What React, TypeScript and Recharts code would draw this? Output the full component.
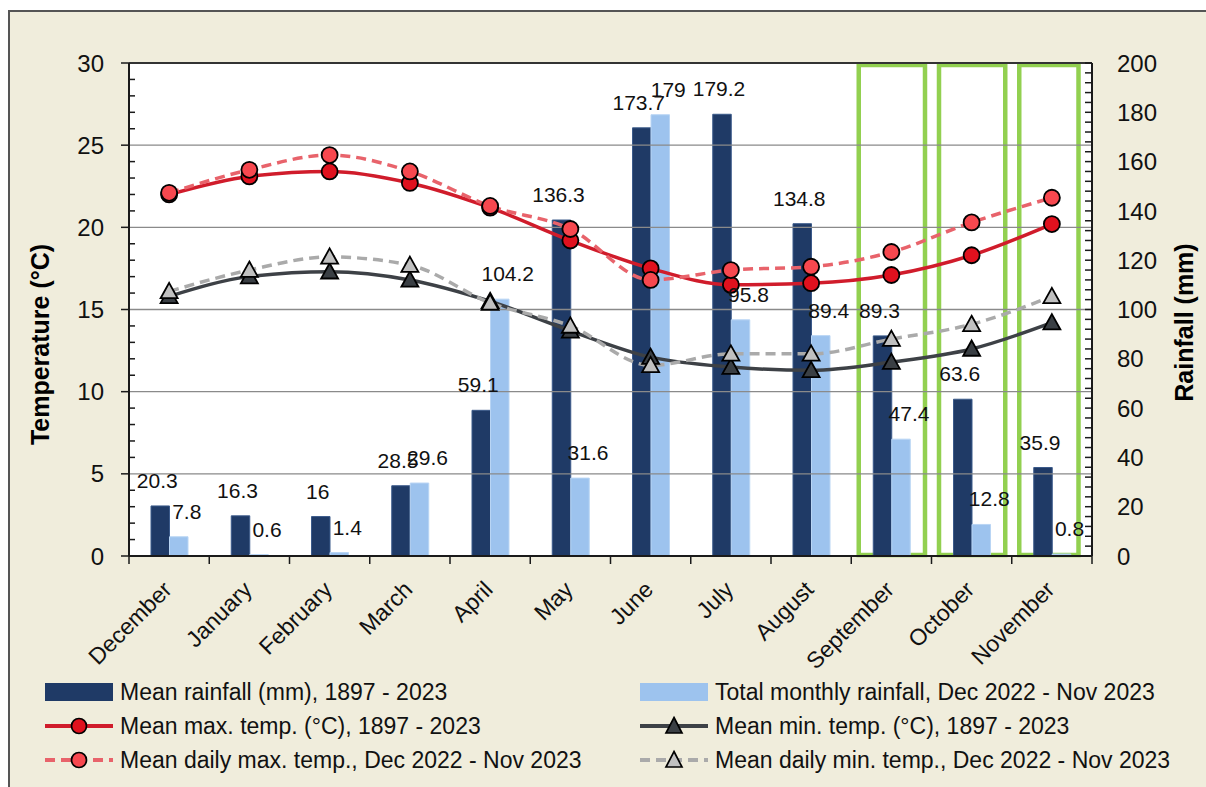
import React from 'react';
import {
  ComposedChart,
  Bar,
  Line,
  XAxis,
  YAxis,
  ReferenceArea,
  ReferenceLine,
  LabelList,
  Label,
} from 'recharts';

const months = [
  'December', 'January', 'February', 'March', 'April', 'May',
  'June', 'July', 'August', 'September', 'October', 'November',
];
const meanRainfall = [20.3, 16.3, 16, 28.5, 59.1, 136.3, 173.7, 179.2, 134.8, 89.3, 63.6, 35.9];
const totalRainfall = [7.8, 0.6, 1.4, 29.6, 104.2, 31.6, 179, 95.8, 89.4, 47.4, 12.8, 0.8];
const meanMaxTemp = [22.0, 23.1, 23.4, 22.7, 21.2, 19.2, 17.5, 16.5, 16.6, 17.1, 18.3, 20.2];
const dailyMaxTemp = [22.1, 23.5, 24.4, 23.4, 21.3, 19.9, 16.8, 17.4, 17.6, 18.5, 20.3, 21.8];
const meanMinTemp = [15.8, 17.0, 17.3, 16.8, 15.5, 13.7, 12.1, 11.5, 11.3, 11.8, 12.6, 14.2];
const dailyMinTemp = [16.1, 17.4, 18.2, 17.7, 15.4, 14.0, 11.6, 12.3, 12.3, 13.2, 14.1, 15.8];
const tempTicks = Array.from({ length: 31 }, (_, i) => i);
const tempGrid = [5, 10, 15, 20, 25];
const rainTicks = Array.from({ length: 51 }, (_, i) => i * 4);
const highlightedMonths = ['September', 'October', 'November'];

const data = months.map((m, i) => ({
  month: m,
  meanRain: meanRainfall[i],
  totalRain: totalRainfall[i],
  meanMax: meanMaxTemp[i],
  dailyMax: dailyMaxTemp[i],
  meanMin: meanMinTemp[i],
  dailyMin: dailyMinTemp[i],
}));

const FONT = '"Liberation Sans", Arial, sans-serif';
const W = 1206;
const H = 787;
const PLOT_LEFT = 129;
const PLOT_RIGHT = 1092;
const PLOT_TOP = 63;
const PLOT_BOTTOM = 556;
const HALF_SLOT = (PLOT_RIGHT - PLOT_LEFT) / months.length / 2;

const C = {
  dark: '#1F3A66',
  darkEdge: '#3B5A8A',
  light: '#9DC3EE',
  lightEdge: '#B9D5F4',
  red: '#D01C2B',
  redDot: '#E0111E',
  redDash: '#E8636B',
  redDashDot: '#F7484F',
  grey: '#3D4146',
  greyDot: '#3A3F44',
  greyDash: '#AAAAAA',
  greyDashDot: '#C0C0C0',
  green: '#92D050',
  axis: '#1A1A1A',
  grid: '#8A8A8A',
  cream: '#F0EDDC',
};

const LeftTick = (props: any) => {
  const { x, y, payload } = props;
  const v = payload.value;
  const major = v % 5 === 0;
  return (
    <g>
      {major ? (
        <line x1={x - 8} x2={x} y1={y} y2={y} stroke={C.axis} strokeWidth={1.5} />
      ) : (
        <line x1={x} x2={x + 6} y1={y} y2={y} stroke={C.axis} strokeWidth={1.5} />
      )}
      {major && (
        <text x={x - 25} y={y} dy="0.36em" textAnchor="end" fontSize={24} fill="#111" fontFamily={FONT}>
          {v}
        </text>
      )}
    </g>
  );
};

const RightTick = (props: any) => {
  const { x, y, payload } = props;
  const v = payload.value;
  const major = v % 20 === 0;
  return (
    <g>
      <line x1={x - 7} x2={x} y1={y} y2={y} stroke={C.axis} strokeWidth={1.5} />
      {major && (
        <text x={x + 25} y={y} dy="0.36em" textAnchor="start" fontSize={24} fill="#111" fontFamily={FONT}>
          {v}
        </text>
      )}
    </g>
  );
};

const BottomTick = (props: any) => {
  const { x, y, payload, index } = props;
  const last = index === months.length - 1;
  const tx = x + 4;
  const ty = y + 35;
  return (
    <g>
      <line x1={x - HALF_SLOT} x2={x - HALF_SLOT} y1={y} y2={y + 8} stroke={C.axis} strokeWidth={1.5} />
      {last && <line x1={x + HALF_SLOT} x2={x + HALF_SLOT} y1={y} y2={y + 8} stroke={C.axis} strokeWidth={1.5} />}
      <text
        x={tx}
        y={ty}
        textAnchor="end"
        fontSize={23}
        fill="#111"
        fontFamily={FONT}
        transform={`rotate(-45, ${tx}, ${ty})`}
      >
        {payload.value}
      </text>
    </g>
  );
};

const CircleDot = (props: any) => {
  const { cx, cy, fill } = props;
  if (cx == null || cy == null) return null;
  return <circle cx={cx} cy={cy} r={8} fill={fill} stroke="#000" strokeWidth={1.8} />;
};

const TriDot = (props: any) => {
  const { cx, cy, fill } = props;
  if (cx == null || cy == null) return null;
  const s = 8.5;
  return (
    <path
      d={`M${cx},${cy - s} L${cx + s},${cy + s * 0.8} L${cx - s},${cy + s * 0.8} Z`}
      fill={fill}
      stroke="#000"
      strokeWidth={1.8}
    />
  );
};

const GreenBox = (p: any) => {
  const extra = p.extraRight || 0;
  return (
    <rect
      x={p.x + 7.5}
      y={p.y + 2}
      width={p.width - 14 - extra}
      height={p.height - 3}
      fill="none"
      stroke={C.green}
      strokeWidth={4.5}
    />
  );
};

const legendRows = [
  [
    { kind: 'bar', color: C.dark, label: 'Mean rainfall (mm), 1897 - 2023' },
    { kind: 'bar', color: C.light, label: 'Total monthly rainfall, Dec 2022 - Nov 2023' },
  ],
  [
    { kind: 'line', color: C.red, dot: C.redDot, shape: 'circle', dash: false, label: 'Mean max. temp. (°C), 1897 - 2023' },
    { kind: 'line', color: C.grey, dot: C.greyDot, shape: 'tri', dash: false, label: 'Mean min. temp. (°C), 1897 - 2023' },
  ],
  [
    { kind: 'line', color: C.redDash, dot: C.redDashDot, shape: 'circle', dash: true, label: 'Mean daily max. temp., Dec 2022 - Nov 2023' },
    { kind: 'line', color: C.greyDash, dot: C.greyDashDot, shape: 'tri', dash: true, label: 'Mean daily min. temp., Dec 2022 - Nov 2023' },
  ],
];

const Swatch = ({ item }: { item: any }) => (
  <svg width={70} height={26} style={{ display: 'block' }}>
    {item.kind === 'bar' ? (
      <rect x={1} y={4} width={68} height={18} fill={item.color} />
    ) : (
      <g>
        <line
          x1={1}
          x2={69}
          y1={13}
          y2={13}
          stroke={item.color}
          strokeWidth={4}
          strokeDasharray={item.dash ? '10 6' : undefined}
        />
        {item.shape === 'circle' ? (
          <circle cx={35} cy={13} r={7.5} fill={item.dot} stroke="#000" strokeWidth={1.7} />
        ) : (
          <path d="M35,4.5 L43,20 L27,20 Z" fill={item.dot} stroke="#000" strokeWidth={1.7} />
        )}
      </g>
    )}
  </svg>
);

export default function App() {
  return (
    <div style={{ position: 'fixed', left: 0, top: 0, width: W, height: H, overflow: 'hidden', background: '#fff' }}>
      <div
        style={{
          position: 'absolute',
          left: 8,
          top: 10,
          right: -10,
          bottom: -10,
          background: C.cream,
          borderLeft: '2px solid #555',
          borderTop: '2px solid #555',
        }}
      />
      <div style={{ position: 'absolute', left: 0, top: 0 }}>
        <ComposedChart
          width={W}
          height={H}
          data={data}
          margin={{ top: PLOT_TOP, right: 0, bottom: 0, left: 0 }}
          barGap={0}
          barSize={18.5}
          style={{ fontFamily: FONT }}
        >
          <ReferenceArea yAxisId="left" y1={0} y2={30} fill="#FFFFFF" fillOpacity={1} stroke="none" />
          {tempGrid.map((v) => (
            <ReferenceLine key={v} yAxisId="left" y={v} stroke={C.grid} strokeWidth={1.3} />
          ))}
          <ReferenceLine yAxisId="left" y={30} stroke="#333" strokeWidth={2} />
          <XAxis
            dataKey="month"
            height={H - PLOT_BOTTOM}
            interval={0}
            tickLine={false}
            tickSize={0}
            tickMargin={0}
            axisLine={{ stroke: C.axis, strokeWidth: 2 }}
            tick={<BottomTick />}
          />
          <YAxis
            yAxisId="left"
            width={PLOT_LEFT}
            domain={[0, 30]}
            ticks={tempTicks}
            interval={0}
            tickLine={false}
            tickSize={0}
            tickMargin={0}
            axisLine={{ stroke: C.axis, strokeWidth: 2 }}
            tick={<LeftTick />}
          >
            <Label
              content={(p: any) => {
                const vb = p.viewBox || { x: 0, y: PLOT_TOP, width: PLOT_LEFT, height: PLOT_BOTTOM - PLOT_TOP };
                const cx = vb.x + 40;
                const cy = vb.y + vb.height / 2 + 35;
                return (
                  <text
                    x={cx}
                    y={cy}
                    textAnchor="middle"
                    dy="0.35em"
                    fontSize={25}
                    fontWeight="bold"
                    fill="#000"
                    fontFamily={FONT}
                    transform={`rotate(-90, ${cx}, ${cy})`}
                  >
                    Temperature (°C)
                  </text>
                );
              }}
            />
          </YAxis>
          <YAxis
            yAxisId="right"
            orientation="right"
            width={W - PLOT_RIGHT}
            domain={[0, 200]}
            ticks={rainTicks}
            interval={0}
            tickLine={false}
            tickSize={0}
            tickMargin={0}
            axisLine={{ stroke: C.axis, strokeWidth: 2 }}
            tick={<RightTick />}
          >
            <Label
              content={(p: any) => {
                const vb = p.viewBox || { x: PLOT_RIGHT, y: PLOT_TOP, width: W - PLOT_RIGHT, height: PLOT_BOTTOM - PLOT_TOP };
                const cx = vb.x + 92;
                const cy = vb.y + vb.height / 2 + 13;
                return (
                  <text
                    x={cx}
                    y={cy}
                    textAnchor="middle"
                    dy="0.35em"
                    fontSize={25}
                    fontWeight="bold"
                    fill="#000"
                    fontFamily={FONT}
                    transform={`rotate(-90, ${cx}, ${cy})`}
                  >
                    Rainfall (mm)
                  </text>
                );
              }}
            />
          </YAxis>
          <Bar yAxisId="right" dataKey="meanRain" fill={C.dark} stroke={C.darkEdge} strokeWidth={1} isAnimationActive={false}>
            <LabelList dataKey="meanRain" position="top" offset={18} dx={-3} fontSize={21} fill="#111" fontFamily={FONT} />
          </Bar>
          <Bar yAxisId="right" dataKey="totalRain" fill={C.light} stroke={C.lightEdge} strokeWidth={1} isAnimationActive={false}>
            <LabelList dataKey="totalRain" position="top" offset={18} dx={8} fontSize={21} fill="#111" fontFamily={FONT} />
          </Bar>
          <Line
            yAxisId="left"
            dataKey="meanMax"
            type="monotone"
            stroke={C.red}
            strokeWidth={3.5}
            dot={<CircleDot fill={C.redDot} />}
            activeDot={false}
            isAnimationActive={false}
          />
          <Line
            yAxisId="left"
            dataKey="meanMin"
            type="monotone"
            stroke={C.grey}
            strokeWidth={3.5}
            dot={<TriDot fill={C.greyDot} />}
            activeDot={false}
            isAnimationActive={false}
          />
          <Line
            yAxisId="left"
            dataKey="dailyMax"
            type="monotone"
            stroke={C.redDash}
            strokeWidth={3.5}
            strokeDasharray="10 6"
            dot={<CircleDot fill={C.redDashDot} />}
            activeDot={false}
            isAnimationActive={false}
          />
          <Line
            yAxisId="left"
            dataKey="dailyMin"
            type="monotone"
            stroke={C.greyDash}
            strokeWidth={3.5}
            strokeDasharray="10 6"
            dot={<TriDot fill={C.greyDashDot} />}
            activeDot={false}
            isAnimationActive={false}
          />
          {highlightedMonths.map((m, i) => (
            <ReferenceArea
              key={m}
              yAxisId="left"
              x1={m}
              x2={m}
              y1={0}
              y2={30}
              shape={<GreenBox extraRight={i === highlightedMonths.length - 1 ? 7 : 0} />}
            />
          ))}
        </ComposedChart>
      </div>
      {legendRows.map((row, r) =>
        row.map((item, c) => (
          <div
            key={`${r}-${c}`}
            style={{
              position: 'absolute',
              left: c === 0 ? 44 : 639,
              top: 679 + r * 34,
              display: 'flex',
              alignItems: 'center',
              height: 26,
              fontFamily: FONT,
              fontSize: 23,
              color: '#111',
              whiteSpace: 'nowrap',
            }}
          >
            <Swatch item={item} />
            <span style={{ marginLeft: 6 }}>{item.label}</span>
          </div>
        ))
      )}
    </div>
  );
}
